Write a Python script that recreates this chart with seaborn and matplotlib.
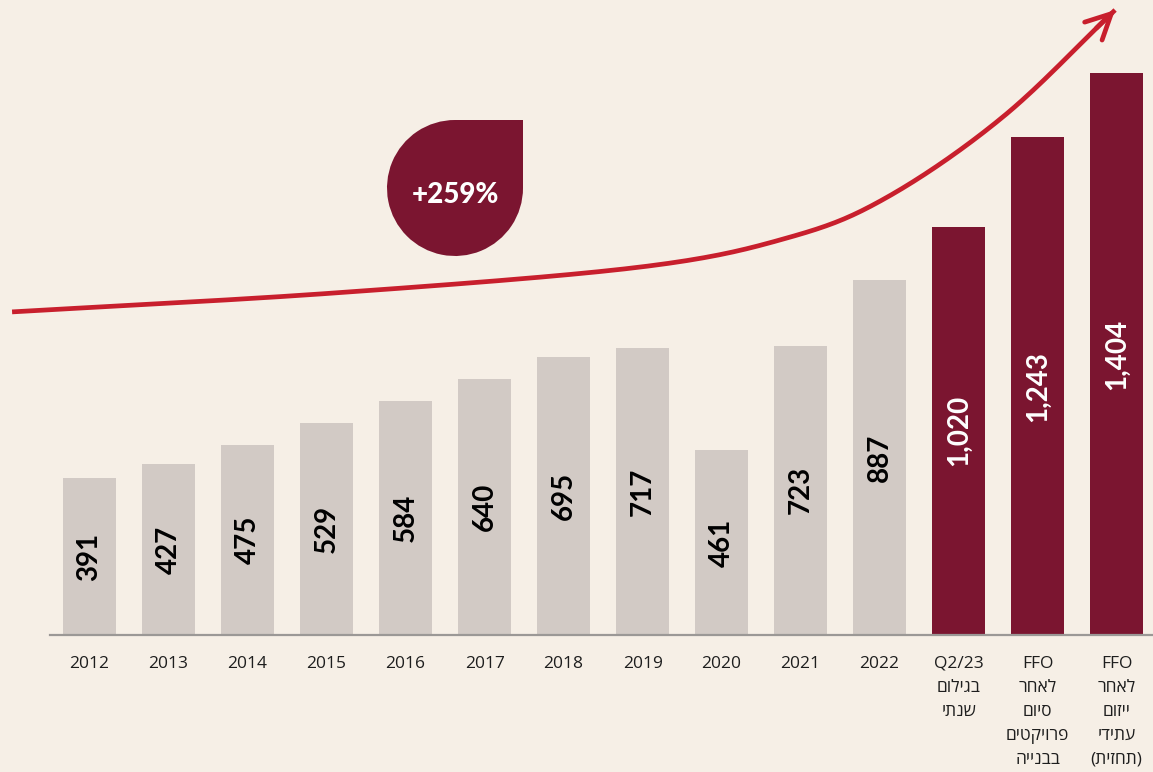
import matplotlib
matplotlib.use("Agg")
import matplotlib.pyplot as plt
from matplotlib.patches import Wedge, Rectangle
import numpy as np
import seaborn as sns

# data
years = ["2012", "2013", "2014", "2015", "2016", "2017", "2018", "2019", "2020", "2021", "2022"]
extra_labels = ["Q2/23\nבגילום\nשנתי",
                "FFO\nלאחר\nסיום\nפרויקטים\nבבנייה",
                "FFO\nלאחר\nייזום\nעתידי\n(תחזית)"]
values = [391, 427, 475, 529, 584, 640, 695, 717, 461, 723, 887, 1020, 1243, 1404]
growth_label = "+259%"

# decorative trend arrow (bar index, value units)
trend_x = [-0.98, 3.08, 6.97, 8.87, 10.10, 11.56, 12.98]
trend_y = [807, 854, 919, 994, 1094, 1294, 1561]

BG = "#F6EFE6"
GREY = "#D2CAC5"
WINE = "#7B1530"
RED = "#C81F2D"


def vis(s):
    # matplotlib has no bidi: flip hebrew lines to visual order
    out = []
    for line in s.split("\n"):
        if any("\u0590" <= c <= "\u05ff" for c in line):
            line = line[::-1].translate(str.maketrans("()", ")("))
        out.append(line)
    return "\n".join(out)


def smooth(xs, ys, sx=79.0, sy=0.4, n=30):
    # catmull-rom through the points, in roughly isotropic units
    p = np.column_stack([np.array(xs) * sx, np.array(ys) * sy])
    p = np.vstack([2 * p[0] - p[1], p, 2 * p[-1] - p[-2]])
    res = []
    for i in range(1, len(p) - 2):
        p0, p1, p2, p3 = p[i - 1], p[i], p[i + 1], p[i + 2]
        for t in np.linspace(0, 1, n, endpoint=False):
            t2, t3 = t * t, t * t * t
            res.append(0.5 * ((2 * p1) + (-p0 + p2) * t + (2 * p0 - 5 * p1 + 4 * p2 - p3) * t2
                              + (-p0 + 3 * p1 - 3 * p2 + p3) * t3))
    res.append(p[-2])
    res = np.array(res)
    return res[:, 0] / sx, res[:, 1] / sy


sns.set_theme(style="white")
plt.rcParams["font.family"] = ["Lato", "DejaVu Sans"]

cats = years + [vis(s) for s in extra_labels]
colors = [GREY] * len(years) + [WINE] * len(extra_labels)

fig = plt.figure(figsize=(11.53, 7.72), dpi=100, facecolor=BG)
ax = fig.add_axes([50 / 1153, 137 / 772, 1103 / 1153, 635 / 772])
ax.set_facecolor(BG)

sns.barplot(x=cats, y=values, hue=cats, palette=colors, legend=False,
            width=0.67, saturation=1, linewidth=0, ax=ax)

ax.set_xlim(-0.5, 13.46)
ax.set_ylim(0, 1586)
for s in ["top", "right", "left"]:
    ax.spines[s].set_visible(False)
ax.spines["bottom"].set_color("#9B9896")
ax.spines["bottom"].set_linewidth(1.6)
ax.set_yticks([])
ax.set_xlabel("")
ax.set_ylabel("")
ax.tick_params(axis="x", length=0, pad=15)
for lab in ax.get_xticklabels():
    lab.set_fontfamily(["Open Sans", "DejaVu Sans"])
    lab.set_fontsize(12.5)
    lab.set_color("#1E1E1E")
    lab.set_linespacing(1.66)
    lab.set_verticalalignment("top")

# value labels inside the bars
for i, v in enumerate(values):
    color = "white" if i >= len(years) else "black"
    ax.text(i, v / 2, f"{v:,}", rotation=90, ha="center", va="center",
            fontsize=20, fontweight="bold", color=color)

# trend arrow
cx, cy = smooth(trend_x, trend_y)
ax.plot(cx, cy, color=RED, lw=3.4, solid_capstyle="butt", clip_on=False)
ax.annotate("", xy=(trend_x[-1], trend_y[-1]), xytext=(cx[-6], cy[-6]),
            arrowprops=dict(arrowstyle="->,head_length=1.5,head_width=0.75",
                            color=RED, lw=3.4, shrinkA=0, shrinkB=0),
            annotation_clip=False)

# growth badge (drop shape), in figure inches
bx, by, r = 4.55, 7.72 - 1.88, 0.68
tr = fig.dpi_scale_trans
fig.patches.append(Wedge((bx, by), r, 90, 360, facecolor=WINE, edgecolor="none", transform=tr))
fig.patches.append(Rectangle((bx, by), r, r, facecolor=WINE, edgecolor="none", transform=tr))
fig.text(bx, by - 0.07, growth_label, transform=tr, ha="center", va="center",
         fontsize=20, fontweight="black", color="white")

fig.savefig("out.png", dpi=100, facecolor=BG)
